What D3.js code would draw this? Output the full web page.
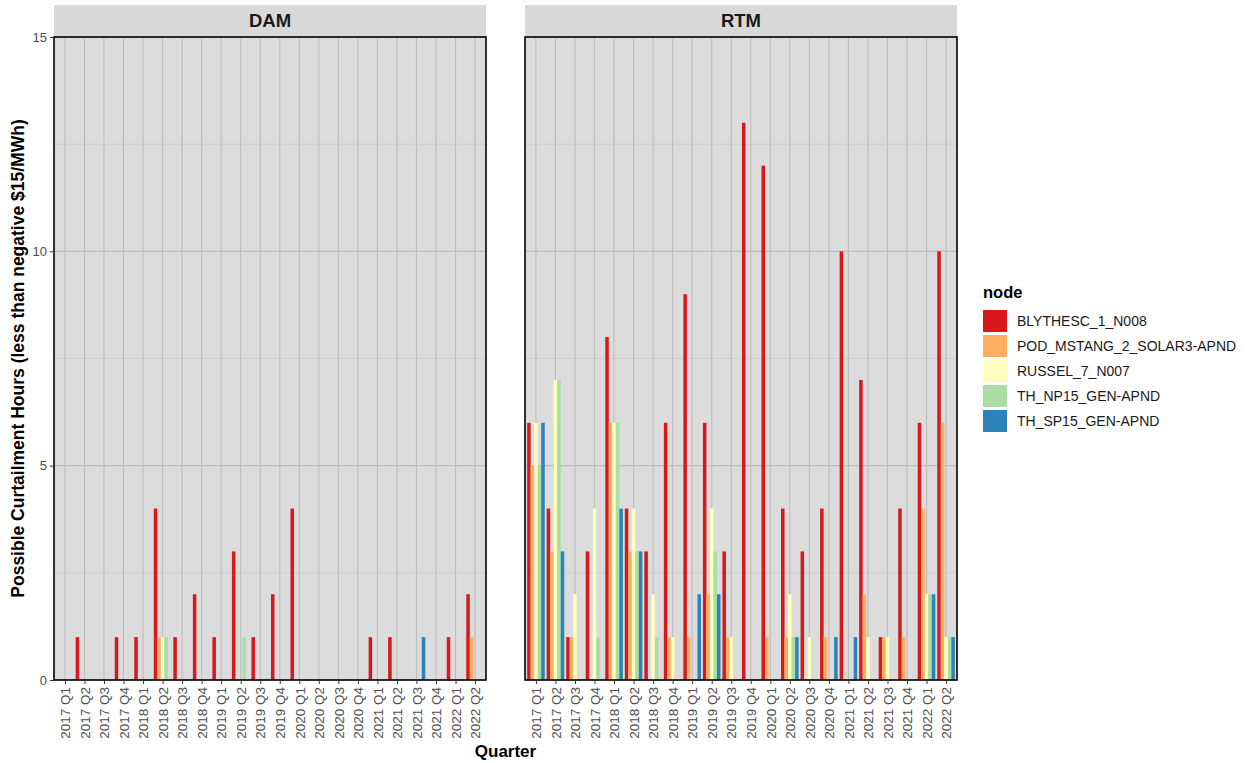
<!DOCTYPE html>
<html>
<head>
<meta charset="utf-8">
<script src="https://cdn.jsdelivr.net/npm/d3@7"></script>
<style>
  body { margin: 0; background: #fff; }
  text { font-family: "Liberation Sans", Arial, sans-serif; }
</style>
</head>
<body>
<script>
// quarters on the x axis
var quarters = ["2017 Q1","2017 Q2","2017 Q3","2017 Q4","2018 Q1","2018 Q2","2018 Q3","2018 Q4",
  "2019 Q1","2019 Q2","2019 Q3","2019 Q4","2020 Q1","2020 Q2","2020 Q3","2020 Q4",
  "2021 Q1","2021 Q2","2021 Q3","2021 Q4","2022 Q1","2022 Q2"];

var nodes = ["BLYTHESC_1_N008","POD_MSTANG_2_SOLAR3-APND","RUSSEL_7_N007","TH_NP15_GEN-APND","TH_SP15_GEN-APND"];
var nodeColors = ["#d7191c","#fdae61","#ffffbf","#abdda4","#2b83ba"];
var markets = ["DAM","RTM"];
var yTicks = [0, 5, 10, 15];

// hours per quarter, one array per node (DAM)
var damBlythe = [0,1,0,1,1,4,1,2,1,3,1,2,4,0,0,0,1,1,0,0,1,2];
var damMstang = [0,0,0,0,0,1,0,0,0,0,0,0,0,0,0,0,0,0,0,0,0,1];
var damRussel = [0,0,0,0,0,1,0,0,0,0,0,0,0,0,0,0,0,0,0,0,0,0];
var damNp15   = [0,0,0,0,0,1,0,0,0,1,0,0,0,0,0,0,0,0,0,0,0,0];
var damSp15   = [0,0,0,0,0,0,0,0,0,0,0,0,0,0,0,0,0,0,1,0,0,0];

// RTM
var rtmBlythe = [6,4,1,3,8,4,3,6,9,6,3,13,12,4,3,4,10,7,1,4,6,10];
var rtmMstang = [5,3,1,0,6,3,0,1,1,2,1,0,1,1,0,1,0,2,1,1,4,6];
var rtmRussel = [6,7,2,4,6,4,2,1,0,4,1,0,0,2,1,0,0,1,1,0,2,1];
var rtmNp15   = [5,7,0,1,6,3,1,0,0,3,0,0,0,1,0,0,0,0,0,0,2,1];
var rtmSp15   = [6,3,0,0,4,3,0,0,2,2,0,0,0,1,0,1,1,0,0,0,2,1];

var series = {
  DAM: [damBlythe, damMstang, damRussel, damNp15, damSp15],
  RTM: [rtmBlythe, rtmMstang, rtmRussel, rtmNp15, rtmSp15]
};

var width = 1251, height = 763;
var plotTop = 37, plotBottom = 680;
var panelX = { DAM: [54, 486], RTM: [525, 957] };

var svg = d3.select("body").append("svg")
    .attr("width", width)
    .attr("height", height);

var y = d3.scaleLinear().domain([0, 15]).range([plotBottom, plotTop]);
var color = d3.scaleOrdinal().domain(nodes).range(nodeColors);

markets.forEach(function(m) {
    var x0 = panelX[m][0], x1 = panelX[m][1];
    var x = d3.scalePoint().domain(quarters).range([x0, x1]).padding(0.56);
    var step = x.step();
    var xn = d3.scaleBand().domain(nodes).range([-0.45 * step, 0.45 * step]);

    var g = svg.append("g").attr("class", "panel");

    // strip
    g.append("rect")
        .attr("x", x0).attr("y", 5)
        .attr("width", x1 - x0).attr("height", plotTop - 5)
        .attr("fill", "#d9d9d9");
    g.append("text")
        .attr("x", (x0 + x1) / 2).attr("y", 27)
        .attr("text-anchor", "middle")
        .attr("font-size", 18.5).attr("font-weight", "bold")
        .attr("fill", "#1a1a1a")
        .text(m);

    // background
    g.append("rect")
        .attr("x", x0).attr("y", plotTop)
        .attr("width", x1 - x0).attr("height", plotBottom - plotTop)
        .attr("fill", "#dcdcdc");

    // minor grid
    g.selectAll(".minor").data([2.5, 7.5, 12.5]).enter().append("line")
        .attr("x1", x0).attr("x2", x1)
        .attr("y1", function(d) { return y(d); })
        .attr("y2", function(d) { return y(d); })
        .attr("stroke", "#cbcbcb").attr("stroke-width", 0.8);

    // major grid
    g.selectAll(".major").data(yTicks).enter().append("line")
        .attr("x1", x0).attr("x2", x1)
        .attr("y1", function(d) { return y(d); })
        .attr("y2", function(d) { return y(d); })
        .attr("stroke", "#bdbdbd").attr("stroke-width", 1.1);

    g.selectAll(".vgrid").data(quarters).enter().append("line")
        .attr("x1", function(d) { return x(d); })
        .attr("x2", function(d) { return x(d); })
        .attr("y1", plotTop).attr("y2", plotBottom)
        .attr("stroke", "#bdbdbd").attr("stroke-width", 1.1);

    // bars
    var rows = [];
    quarters.forEach(function(q, i) {
        nodes.forEach(function(n, j) {
            rows.push({ q: q, node: n, v: series[m][j][i] });
        });
    });

    g.selectAll(".bar").data(rows.filter(function(d) { return d.v > 0; }))
        .enter().append("rect")
        .attr("x", function(d) { return x(d.q) + xn(d.node); })
        .attr("width", xn.bandwidth())
        .attr("y", function(d) { return y(d.v); })
        .attr("height", function(d) { return y(0) - y(d.v); })
        .attr("fill", function(d) { return color(d.node); });

    // border
    g.append("rect")
        .attr("x", x0).attr("y", plotTop)
        .attr("width", x1 - x0).attr("height", plotBottom - plotTop)
        .attr("fill", "none").attr("stroke", "#000").attr("stroke-width", 1.6);

    // x axis
    var xAxis = g.append("g")
        .attr("transform", "translate(0," + plotBottom + ")")
        .call(d3.axisBottom(x).tickSize(4).tickPadding(2));
    xAxis.select(".domain").remove();
    xAxis.selectAll("line").attr("stroke", "#333");
    xAxis.selectAll("text")
        .attr("transform", "rotate(-90)")
        .attr("text-anchor", "end")
        .attr("x", -7).attr("y", 0).attr("dy", "0.35em")
        .attr("font-size", 13.5).attr("fill", "#4d4d4d")
        .style("font-family", "'Liberation Sans', Arial, sans-serif");

    if (m === "DAM") {
        var yAxis = g.append("g")
            .attr("transform", "translate(" + x0 + ",0)")
            .call(d3.axisLeft(y).tickValues(yTicks).tickSize(4).tickPadding(3));
        yAxis.select(".domain").remove();
        yAxis.selectAll("line").attr("stroke", "#333");
        yAxis.selectAll("text")
            .attr("font-size", 13).attr("fill", "#4d4d4d")
            .style("font-family", "'Liberation Sans', Arial, sans-serif");
    }
});

// axis titles
svg.append("text")
    .attr("x", (panelX.DAM[0] + panelX.RTM[1]) / 2).attr("y", 757)
    .attr("text-anchor", "middle")
    .attr("font-size", 17).attr("font-weight", "bold")
    .text("Quarter");

svg.append("text")
    .attr("transform", "translate(24," + ((plotTop + plotBottom) / 2) + ") rotate(-90)")
    .attr("text-anchor", "middle")
    .attr("font-size", 17.5).attr("font-weight", "bold")
    .text("Possible Curtailment Hours (less than negative $15/MWh)");

// legend
var legend = svg.append("g").attr("transform", "translate(983,298)");
legend.append("text")
    .attr("x", 0).attr("y", 0)
    .attr("font-size", 16.5).attr("font-weight", "bold")
    .text("node");

var item = legend.selectAll(".item").data(nodes).enter().append("g")
    .attr("transform", function(d, i) { return "translate(0," + (12 + i * 25) + ")"; });
item.append("rect")
    .attr("width", 24).attr("height", 22)
    .attr("fill", function(d) { return color(d); });
item.append("text")
    .attr("x", 34).attr("y", 11).attr("dy", "0.35em")
    .attr("font-size", 14).attr("fill", "#1a1a1a")
    .text(function(d) { return d; });
</script>
</body>
</html>
